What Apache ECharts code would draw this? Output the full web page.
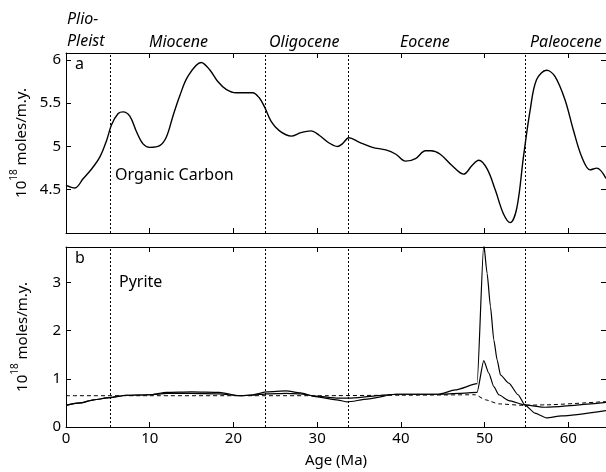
<!DOCTYPE html>
<html><head><meta charset="utf-8">
<script src="https://cdn.jsdelivr.net/npm/echarts@6/dist/echarts.min.js"></script>
<style>html,body{margin:0;padding:0;background:#fff}#c{width:606px;height:472px}</style>
</head><body><div id="c"></div>
<script>
// Age (Ma), value (10^18 moles/m.y.)
const organicCarbon = [
 [0,4.55],[1.07,4.52],[2.06,4.63],[3.06,4.74],[4.05,4.88],[4.85,5.07],[5.44,5.25],[6.23,5.38],[6.82,5.40],
 [7.62,5.35],[8.42,5.17],[9.2,5.03],[10.0,4.99],[11.19,5.01],[11.99,5.11],[12.77,5.35],[13.57,5.58],
 [14.56,5.81],[16.15,5.97],[17.14,5.89],[18.13,5.75],[19.13,5.66],[20.32,5.62],[21.7,5.62],[22.3,5.62],
 [23.1,5.56],[23.7,5.46],[24.5,5.29],[25.5,5.18],[26.9,5.12],[28.06,5.16],[29.25,5.18],[30.24,5.13],
 [31.43,5.04],[32.42,5.00],[33.0,5.03],[33.8,5.10],[35.0,5.05],[36.6,4.99],[38.2,4.96],[39.4,4.91],
 [40.56,4.83],[41.75,4.86],[42.94,4.95],[43.6,4.95],[44.7,4.91],[46.1,4.78],[47.5,4.68],[48.5,4.78],
 [49.3,4.84],[50.3,4.74],[51.3,4.49],[52.26,4.22],[53.06,4.12],[53.85,4.29],[54.64,4.88],[55.44,5.42],
 [56.2,5.77],[57.4,5.88],[58.4,5.81],[59.6,5.54],[60.6,5.19],[61.6,4.88],[62.6,4.73],[63.4,4.75],[64.5,4.63]
];
const pyriteA = [
 [0,0.45],[1.7,0.50],[3.3,0.565],[5.2,0.61],[7.2,0.66],[10,0.67],[12,0.72],[15,0.73],[18.3,0.72],
 [20.7,0.65],[22.3,0.67],[24,0.73],[26.3,0.75],[28,0.71],[29.8,0.63],[32.5,0.56],[33.6,0.52],[36,0.58],
 [39.4,0.68],[44.5,0.68],[46.5,0.77],[49.1,0.90],[49.9,3.80],[50.3,3.19],[50.7,2.50],[51.1,1.81],
 [51.5,1.39],[51.9,1.08],[52.9,0.91],[54.0,0.67],[54.8,0.46],[56.0,0.29],[57.4,0.19],[59.2,0.23],[64.5,0.34]
];
const pyriteB = [
 [0,0.45],[1.7,0.50],[3.3,0.565],[5.2,0.61],[7.2,0.66],[10,0.67],[12,0.70],[15,0.70],[18.3,0.69],
 [20.7,0.65],[22.3,0.66],[24,0.69],[26.3,0.70],[28,0.69],[29.8,0.64],[32.5,0.60],[34,0.60],[39.4,0.68],
 [44.5,0.68],[47,0.70],[49.1,0.72],[49.9,1.38],[50.5,1.12],[51.1,0.84],[51.7,0.67],[52.9,0.55],
 [54.8,0.46],[57.2,0.41],[64.5,0.51]
];
const pyriteDashed = [
 [0,0.65],[10,0.65],[20,0.65],[30,0.65],[40,0.66],[48.9,0.67],[50.1,0.565],[51.7,0.48],[54.6,0.45],
 [57.2,0.46],[64.5,0.53]
];
const epochBoundaries = [5.3, 23.8, 33.7, 54.8];
const epochNames = ['Plio-\nPleist', 'Miocene', 'Oligocene', 'Eocene', 'Paleocene'];
const epochLabelX = [67, 149, 269, 400, 530];
const xTicks = {min: 0, max: 64.5, interval: 10};

const FONT = 'Noto Sans';
const chart = echarts.init(document.getElementById('c'), null, {renderer: 'canvas'});

function xAx(grid, pos, labels, name) {
  return {
    type: 'value', gridIndex: grid, position: pos, min: xTicks.min, max: xTicks.max, interval: xTicks.interval,
    axisLine: {show: true, onZero: false, lineStyle: {color: '#000', width: 1}},
    axisTick: {show: true, inside: true, length: 5, lineStyle: {color: '#000'}},
    axisLabel: {show: labels, color: '#000', fontFamily: FONT, fontSize: 15, margin: 4, showMaxLabel: false},
    splitLine: {show: false},
    name: name || '', nameLocation: 'middle', nameGap: 26,
    nameTextStyle: {color: '#000', fontFamily: FONT, fontSize: 15}
  };
}
const yName = '{a|10}{s|18}{a| moles/m.y.}';
const yRich = {a: {fontFamily: FONT, fontSize: 15, color: '#000', lineHeight: 20, verticalAlign: 'bottom'},
               s: {fontFamily: FONT, fontSize: 10, color: '#000', lineHeight: 20, verticalAlign: 'top', padding: [0, 0, 6, 0]}};
function yAx(grid, pos, min, max, interval, labels, name) {
  return {
    type: 'value', gridIndex: grid, position: pos, min: min, max: max, interval: interval,
    axisLine: {show: true, onZero: false, lineStyle: {color: '#000', width: 1}},
    axisTick: {show: true, inside: true, length: 5, lineStyle: {color: '#000'}},
    axisLabel: {show: labels, color: '#000', fontFamily: FONT, fontSize: 15, margin: 5,
                showMinLabel: grid === 1, showMaxLabel: false},
    splitLine: {show: false},
    name: name ? yName : '', nameLocation: 'middle', nameGap: 36, nameRotate: 90,
    nameTextStyle: {rich: yRich}
  };
}
const boundaryLines = {
  silent: true, symbol: ['none', 'none'], label: {show: false},
  lineStyle: {color: '#000', width: 1, type: [2, 2]},
  data: epochBoundaries.map(v => ({xAxis: v}))
};

const graphics = [];
epochNames.forEach((n, i) => {
  graphics.push({type: 'text', left: epochLabelX[i], top: n.indexOf('\n') >= 0 ? 8 : 31,
    style: {text: n, font: 'italic 16px "' + FONT + '"', fill: '#000', lineHeight: 22}});
});
graphics.push({type: 'text', left: 75, top: 56, style: {text: 'a', font: '16px "' + FONT + '"', fill: '#000'}});
graphics.push({type: 'text', left: 75, top: 250, style: {text: 'b', font: '16px "' + FONT + '"', fill: '#000'}});
graphics.push({type: 'text', left: 115, top: 167, style: {text: 'Organic Carbon', font: '16px "' + FONT + '"', fill: '#000'}});
graphics.push({type: 'text', left: 119, top: 274, style: {text: 'Pyrite', font: '16px "' + FONT + '"', fill: '#000'}});

chart.setOption({
  animation: false,
  backgroundColor: '#fff',
  grid: [
    {left: 66, top: 53, width: 542, height: 180, containLabel: false},
    {left: 66, top: 247, width: 542, height: 180, containLabel: false}
  ],
  xAxis: [
    xAx(0, 'bottom', false), xAx(0, 'top', false),
    xAx(1, 'bottom', true, 'Age (Ma)'), xAx(1, 'top', false)
  ],
  yAxis: [
    yAx(0, 'left', 4, 6.08, 0.5, true, true), yAx(0, 'right', 4, 6.08, 0.5, false, false),
    yAx(1, 'left', 0, 3.74, 1, true, true), yAx(1, 'right', 0, 3.74, 1, false, false)
  ],
  series: [
    {type: 'line', xAxisIndex: 0, yAxisIndex: 0, data: organicCarbon, showSymbol: false, smooth: 0.35,
     lineStyle: {color: '#000', width: 1.4}, markLine: boundaryLines},
    {type: 'line', xAxisIndex: 2, yAxisIndex: 2, data: pyriteA, showSymbol: false, smooth: 0.2, smoothMonotone: 'x',
     lineStyle: {color: '#000', width: 1.2}, markLine: boundaryLines},
    {type: 'line', xAxisIndex: 2, yAxisIndex: 2, data: pyriteB, showSymbol: false, smooth: 0.2, smoothMonotone: 'x',
     lineStyle: {color: '#000', width: 1.2}},
    {type: 'line', xAxisIndex: 2, yAxisIndex: 2, data: pyriteDashed, showSymbol: false, smooth: 0.2, smoothMonotone: 'x',
     lineStyle: {color: '#000', width: 1, type: [4, 3]}}
  ],
  graphic: graphics
});
</script></body></html>
